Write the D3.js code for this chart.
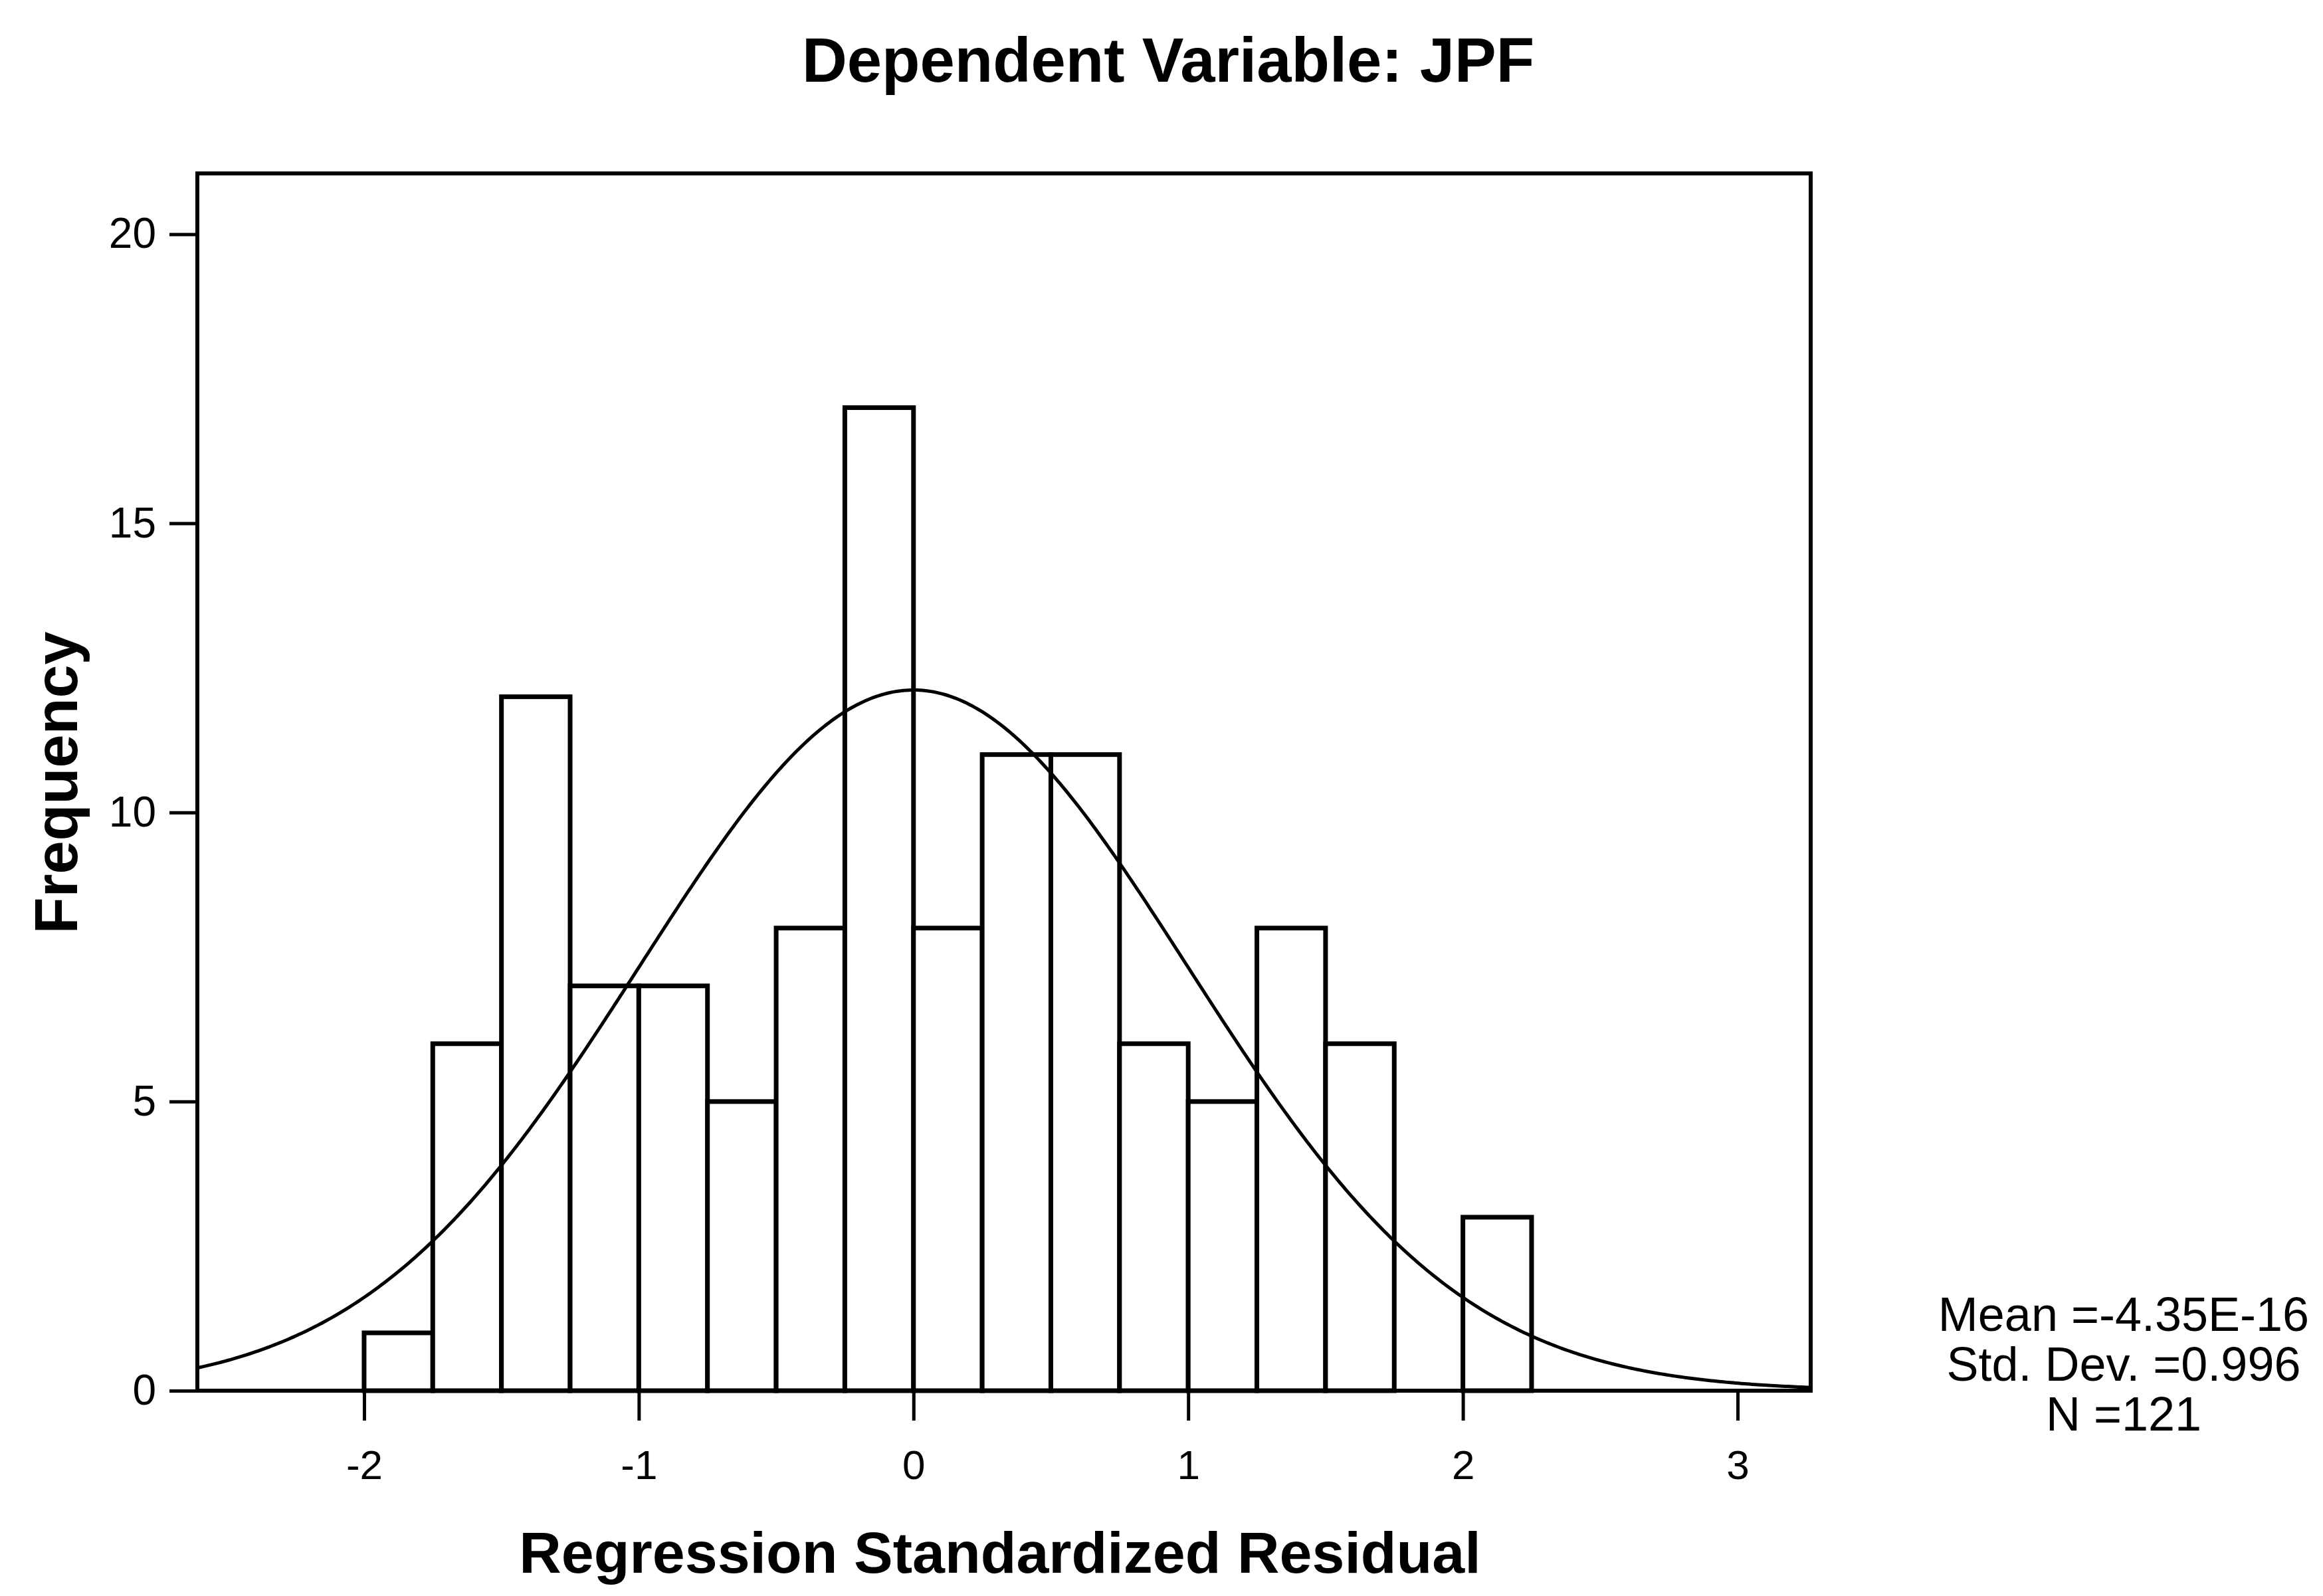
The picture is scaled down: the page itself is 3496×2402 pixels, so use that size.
<!DOCTYPE html>
<html lang="en">
<head>
    <meta charset="utf-8">
    <title>Histogram - Dependent Variable: JPF</title>
    <script src="https://cdnjs.cloudflare.com/ajax/libs/d3/7.8.5/d3.min.js"></script>
    <style>
        body { margin: 0; background: #fff; }
        text { font-family: "Liberation Sans", Arial, sans-serif; fill: #000; }
    </style>
</head>
<body>
<svg id="chart" width="3496" height="2402"></svg>
<script>
    // histogram bins (lower edge) and counts
    var binStarts = [-2, -1.75, -1.5, -1.25, -1, -0.75, -0.5, -0.25, 0, 0.25, 0.5, 0.75, 1, 1.25, 1.5, 1.75, 2];
    var counts = [1, 6, 12, 7, 7, 5, 8, 17, 8, 11, 11, 6, 5, 8, 6, 0, 3];
    var binWidth = 0.25;

    // axis ticks
    var xTicks = [-2, -1, 0, 1, 2, 3];
    var yTicks = [0, 5, 10, 15, 20];

    // summary stats shown at the right
    var statMean = -4.35e-16;
    var statSd = 0.996;
    var statN = 121;
    var statLines = ["Mean =-4.35E-16", "Std. Dev. =0.996", "N =121"];

    var svg = d3.select("#chart");

    // plot box (note: "top" is taken by window.top, so use other names)
    var plotLeft = 297, plotRight = 2725, plotTop = 261, plotBottom = 2093;

    var x = d3.scaleLinear().domain([-2.607, 3.266]).range([plotLeft, plotRight]);
    var y = d3.scaleLinear().domain([0, 21.05]).range([plotBottom, plotTop]);

    // bars
    var bars = binStarts.map(function(b, i) { return { x0: b, x1: b + binWidth, n: counts[i] }; })
        .filter(function(d) { return d.n > 0; });

    svg.append("g")
        .selectAll("rect")
        .data(bars)
        .enter()
        .append("rect")
        .attr("x", d => x(d.x0))
        .attr("y", d => y(d.n))
        .attr("width", d => x(d.x1) - x(d.x0))
        .attr("height", d => y(0) - y(d.n))
        .style("fill", "#fff")
        .style("stroke", "#000")
        .style("stroke-width", 7);

    // fitted normal curve
    var curvePts = d3.range(-2.607, 3.27, 0.01).map(function(v) {
        var z = (v - statMean) / statSd;
        return [v, statN * binWidth * Math.exp(-0.5 * z * z) / (statSd * Math.sqrt(2 * Math.PI))];
    });
    var line = d3.line().x(d => x(d[0])).y(d => y(d[1]));
    svg.append("path")
        .attr("d", line(curvePts))
        .style("fill", "none")
        .style("stroke", "#000")
        .style("stroke-width", 5);

    // frame
    svg.append("rect")
        .attr("x", plotLeft).attr("y", plotTop)
        .attr("width", plotRight - plotLeft).attr("height", plotBottom - plotTop)
        .style("fill", "none").style("stroke", "#000").style("stroke-width", 6);

    // x axis
    var xAxis = d3.axisBottom(x).tickValues(xTicks).tickSize(45).tickPadding(44).tickFormat(d => String(d));
    var gx = svg.append("g").attr("transform", "translate(0," + plotBottom + ")").call(xAxis);
    gx.select(".domain").remove();
    gx.selectAll("line").style("stroke", "#000").style("stroke-width", 5);
    gx.selectAll("text").style("font-size", "62px").attr("font-family", null);

    // y axis
    var yAxis = d3.axisLeft(y).tickValues(yTicks).tickSize(42).tickPadding(20).tickFormat(d => String(d));
    var gy = svg.append("g").attr("transform", "translate(" + plotLeft + ",0)").call(yAxis);
    gy.select(".domain").remove();
    gy.selectAll("line").style("stroke", "#000").style("stroke-width", 5);
    gy.selectAll("text").style("font-size", "64px").attr("font-family", null);

    // titles
    svg.append("text")
        .attr("x", 1758).attr("y", 123)
        .attr("text-anchor", "middle")
        .style("font-size", "94px").style("font-weight", "bold")
        .text("Dependent Variable: JPF");

    svg.append("text")
        .attr("x", 1505).attr("y", 2367)
        .attr("text-anchor", "middle")
        .style("font-size", "88px").style("font-weight", "bold")
        .text("Regression Standardized Residual");

    svg.append("text")
        .attr("transform", "translate(116,1178) rotate(-90)")
        .attr("text-anchor", "middle")
        .style("font-size", "90px").style("font-weight", "bold")
        .text("Frequency");

    // stats block
    svg.append("g")
        .selectAll("text")
        .data(statLines)
        .enter()
        .append("text")
        .attr("x", 3196)
        .attr("y", (d, i) => 2003 + i * 75)
        .attr("text-anchor", "middle")
        .style("font-size", "72px")
        .text(d => d);
</script>
</body>
</html>
